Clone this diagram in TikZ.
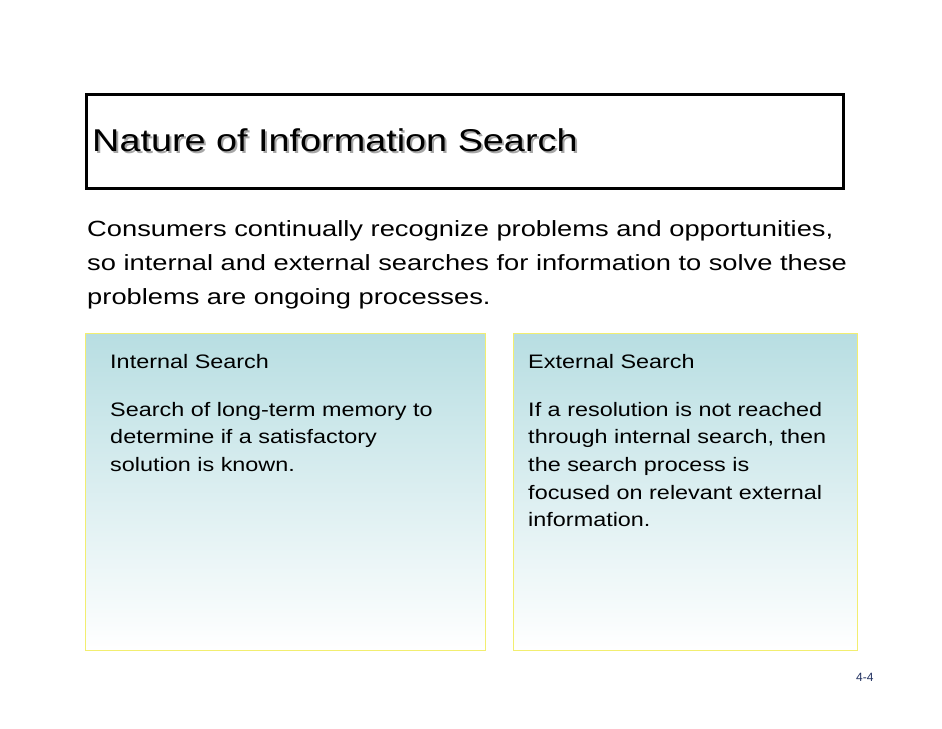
\documentclass[tikz,border=0pt]{standalone}
\usepackage{fontspec}
\setmainfont{Liberation Sans}
\definecolor{boxtop}{HTML}{B8DEE2}
\definecolor{boxline}{HTML}{F2EE70}
\definecolor{pagenum}{HTML}{1F2F5F}
\tikzset{
  x=1pt,y=-1pt,
  panel/.style={draw=boxline,line width=1pt,top color=boxtop,bottom color=white},
  head/.style={anchor=base west,inner sep=0pt,xscale=1.2,transform shape,font=\fontsize{19.5}{19.5}\selectfont},
  body/.style={anchor=north west,inner sep=0pt,align=left,xscale=1.2,transform shape,font=\fontsize{19.5}{27.6}\selectfont},
  titletext/.style={anchor=base west,inner sep=0pt,xscale=1.2,transform shape,font=\fontsize{31.5}{31.5}\selectfont},
}
\begin{document}
\begin{tikzpicture}
\useasboundingbox[fill=white] (0,0) rectangle (942,728);
\node[draw,line width=3pt,minimum width=757,minimum height=94,anchor=north west] (titlebox) at (85,93) {};
\node[titletext,text=black!35] (shadow) at (94,153) {Nature of Information Search};
\node[titletext] (title) at (92,151) {Nature of Information Search};
\node[anchor=north west,inner sep=0pt,align=left,xscale=1.24,transform shape,font=\fontsize{22}{34}\selectfont] (intro) at (87,220)
 {Consumers continually recognize problems and opportunities,\\so internal and external searches for information to solve these\\problems are ongoing processes.};
\node[panel,minimum width=400,minimum height=317,anchor=north west] (left) at (85,333) {};
\node[panel,minimum width=344,minimum height=317,anchor=north west] (right) at (513,333) {};
\node[head] (lh) at (110,368) {Internal Search};
\node[head] (rh) at (528,368) {External Search};
\node[body] (lb) at (110,402) {Search of long-term memory to\\determine if a satisfactory\\solution is known.};
\node[body] (rb) at (528,402) {If a resolution is not reached\\through internal search, then\\the search process is\\focused on relevant external\\information.};
\node[anchor=base west,inner sep=0pt,text=pagenum,font=\fontsize{12}{12}\selectfont] (pg) at (856,681) {4-4};
\end{tikzpicture}
\end{document}
